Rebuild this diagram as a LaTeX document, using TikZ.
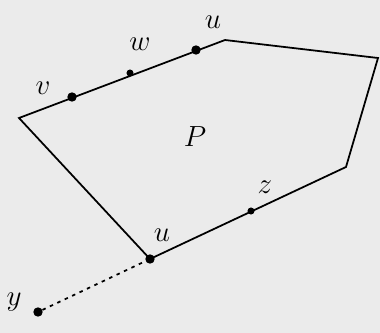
\documentclass[tikz,border=0pt]{standalone}
\usetikzlibrary{positioning}
\begin{document}
\begin{tikzpicture}[x=0.03cm, y=-0.03cm, every node/.style={font=\fontsize{26}{30}\selectfont}, dot/.style={circle, fill, inner sep=0pt, minimum size=8pt}, edge/.style={line width=1.5pt}]
\fill[black!8] (0,0) rectangle (380,333);
\useasboundingbox (0,0) rectangle (380,333);
% corners of P
\coordinate (a) at (19,118);
\coordinate (b) at (225,40);
\coordinate (c) at (378,58);
\coordinate (d) at (346,167);
\node[dot] (u2) at (150,259) {};
\draw[edge] (a) -- (b) -- (c) -- (d) -- (u2.center) -- cycle;
% points on the boundary
\node[dot] (v) at (72,97) {};
\node[dot, minimum size=6pt] (w) at (130,73) {};
\node[dot] (u) at (196,50) {};
\node[dot, minimum size=6pt] (z) at (251,211) {};
\node[dot] (y) at (38,312) {};
\draw[edge, dash pattern=on 3pt off 4pt] (y) -- (u2);
% labels
\node (vl) at (43,88) {$v$};
\node (wl) at (140,44) {$w$};
\node (ul) at (213,22) {$u$};
\node (u2l) at (162,235) {$u$};
\node (zl) at (265,187) {$z$};
\node (yl) at (14,302) {$y$};
\node[font=\fontsize{44}{48}\selectfont] (pl) at (195,137) {$P$};
\end{tikzpicture}
\end{document}
